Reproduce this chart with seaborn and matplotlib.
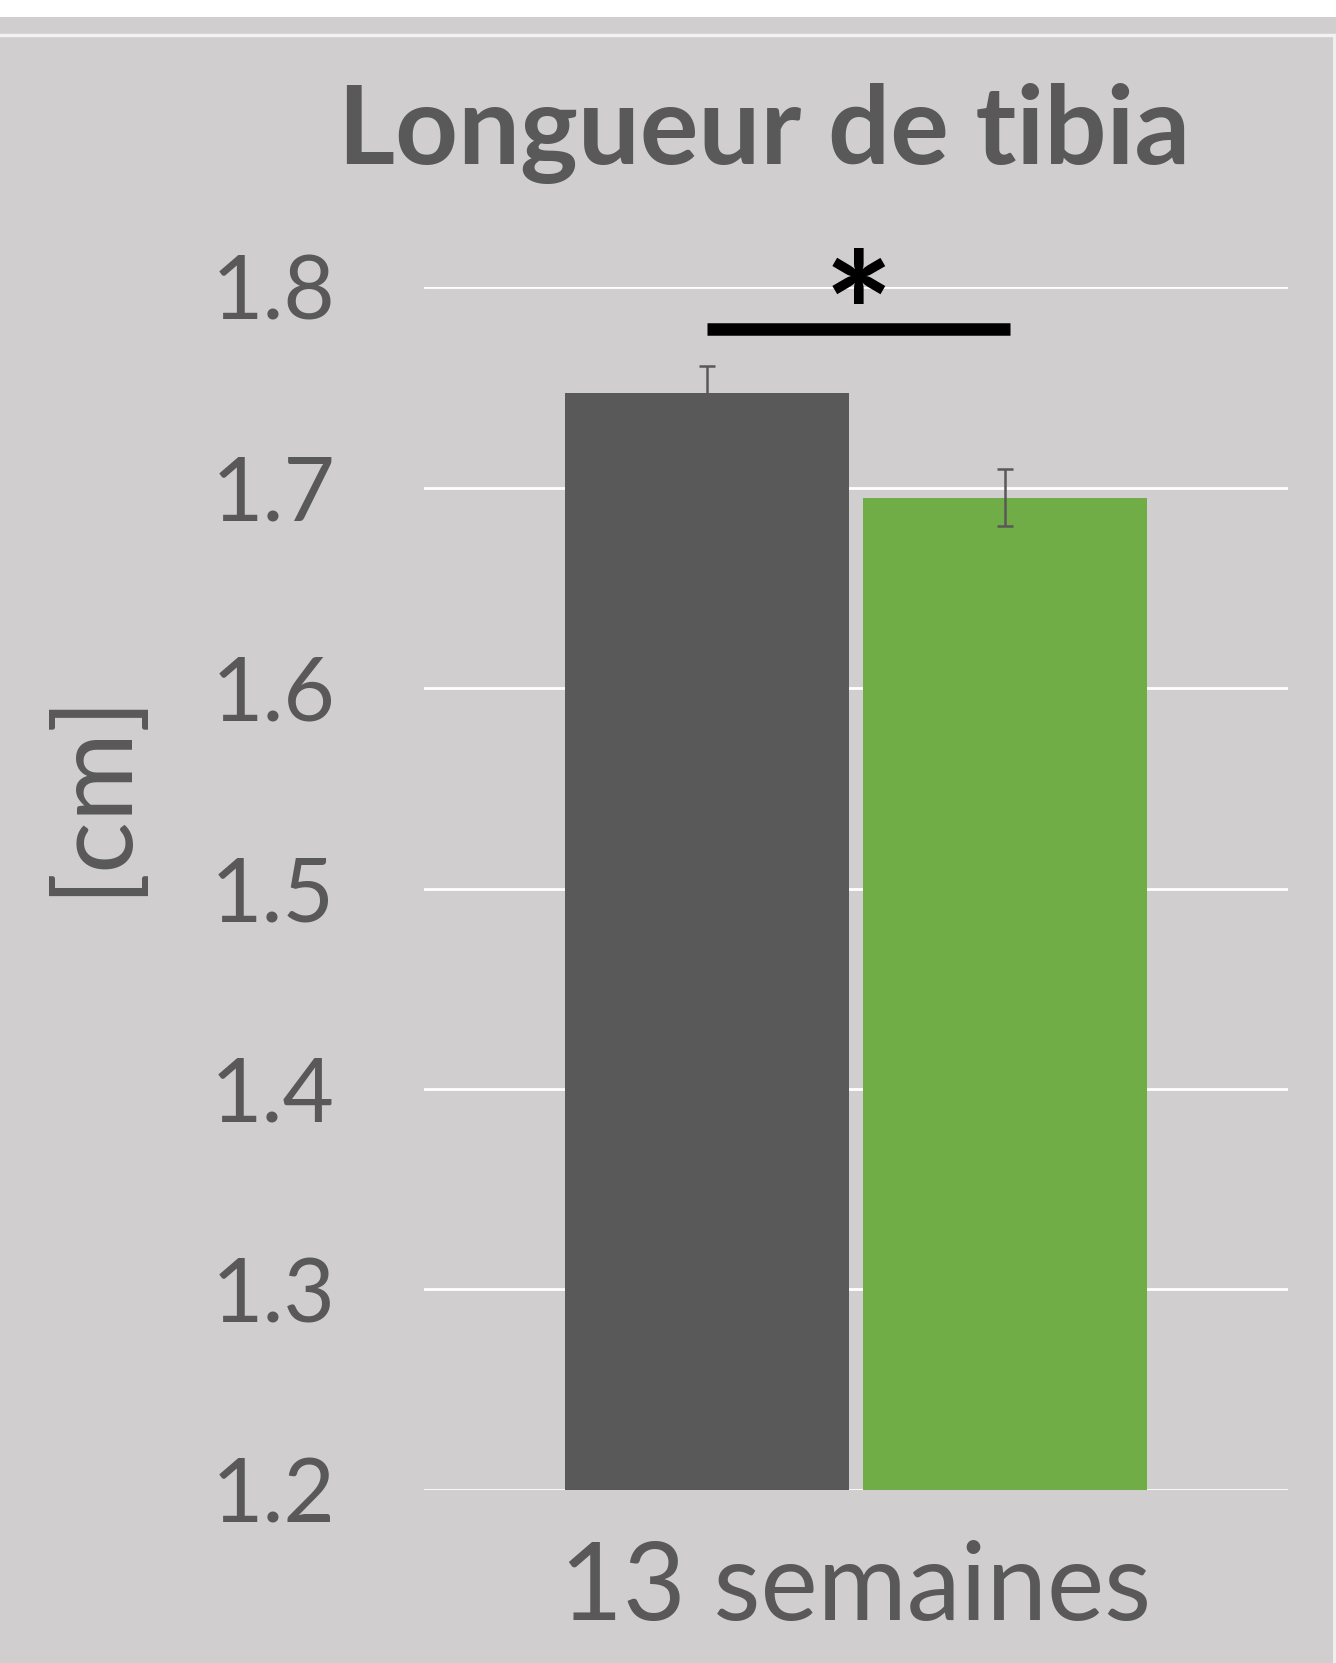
import matplotlib
matplotlib.use("Agg")
import matplotlib.pyplot as plt
import seaborn as sns
import pandas as pd
from matplotlib.patches import Rectangle
from matplotlib.lines import Line2D

# Tibia length at 13 weeks, two groups
period = ["13 semaines", "13 semaines"]
groups = ["témoin", "traité"]
means = [1.747, 1.695]
sem = [0.0135, 0.014]
colors = ["#595959", "#70AD47"]
yticks = [1.2, 1.3, 1.4, 1.5, 1.6, 1.7, 1.8]

BG = "#D0CECF"
TXT = "#595959"
FONT = ["Lato", "DejaVu Sans"]

sns.set_theme(style="white")
plt.rcParams["font.family"] = FONT

W, H = 1336, 1663
fig = plt.figure(figsize=(W / 100, H / 100), dpi=100, facecolor="white")

# background panel with a thin light rule near the top
fig.patches.append(Rectangle((0, 0), 1, 1 - 17 / H, transform=fig.transFigure,
                             facecolor=BG, edgecolor="none", zorder=-10))
fig.lines.append(Line2D([0, 1], [1 - 34.5 / H] * 2, transform=fig.transFigure,
                        color="#F2F2F2", lw=2.5, zorder=-9))
fig.lines.append(Line2D([1 - 2.5 / W] * 2, [0, 1 - 36 / H], transform=fig.transFigure,
                        color="#F2F2F2", lw=2, zorder=-9))

ax = fig.add_axes([424 / W, 1 - 1490 / H, 864 / W, (1490 - 287) / H])
ax.set_facecolor("none")

df = pd.DataFrame({"period": period, "group": groups, "mean": means})
sns.barplot(data=df, x="period", y="mean", hue="group", palette=colors,
            width=0.69, gap=0.05, dodge=True, errorbar=None, legend=False,
            saturation=1, linewidth=0, ax=ax, zorder=3)

# error bars at the bar centres
for patch, m, e in zip(ax.patches, means, sem):
    cx = patch.get_x() + patch.get_width() / 2
    ax.errorbar(cx, m, yerr=e, fmt="none", ecolor="#595959", elinewidth=1.8,
                capsize=6, capthick=1.8, zorder=4)

ax.set_xlim(-0.5, 0.5)
ax.set_ylim(1.2, 1.8)
ax.set_yticks(yticks)
ax.set_yticklabels([f"{v:.1f}" for v in yticks])
ax.yaxis.grid(True, color="white", lw=2, zorder=0)
ax.set_axisbelow(True)
for s in ax.spines.values():
    s.set_visible(False)
ax.tick_params(axis="y", length=0, pad=64, labelsize=64, labelcolor=TXT)
ax.tick_params(axis="x", length=0, pad=36, labelsize=78, labelcolor=TXT)
ax.set_xlabel("")
ax.set_ylabel("")

# significance bar
p0, p1 = ax.patches[0], ax.patches[1]
x0 = p0.get_x() + p0.get_width() / 2
x1 = p1.get_x() + p1.get_width() / 2 + 0.006
ax.plot([x0, x1], [1.779, 1.779], color="black", lw=9, solid_capstyle="butt",
        clip_on=False, zorder=5)
ax.text((x0 + x1) / 2, 1.743, "*", ha="center", va="bottom", fontsize=118,
        fontweight="bold", color="black", clip_on=False, zorder=5)

fig.text(764 / W, 1 - 164 / H, "Longueur de tibia", ha="center", va="baseline",
         fontsize=79, fontweight="bold", color=TXT)
fig.text(93 / W, 1 - 792 / H, "[cm]", ha="center", va="center", rotation=90,
         fontsize=78, color=TXT)

fig.savefig("out.png", dpi=100, facecolor=fig.get_facecolor())
